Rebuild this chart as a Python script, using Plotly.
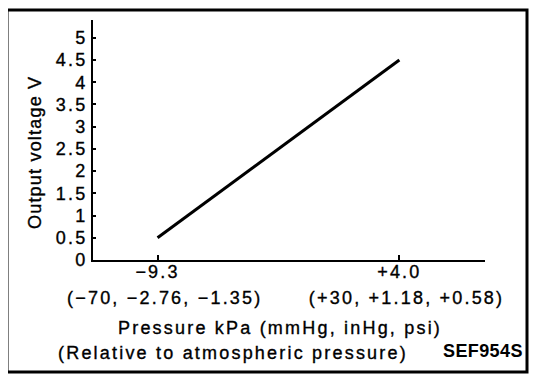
import plotly.graph_objects as go

# ---- data ----
pressure_kpa = [-9.3, 4.0]
output_voltage = [0.5, 4.5]

x_tick_vals = [-9.3, 4.0]
x_tick_main = ["−9.3", "+4.0"]
x_tick_sub = ["(−70, −2.76, −1.35)", "(+30, +1.18, +0.58)"]

y_tick_vals = [0, 0.5, 1, 1.5, 2, 2.5, 3, 3.5, 4, 4.5, 5]
y_tick_text = ["0", "0.5", "1", "1.5", "2", "2.5", "3", "3.5", "4", "4.5", "5"]

y_title = "Output voltage V"
x_title_1 = "Pressure kPa (mmHg, inHg, psi)"
x_title_2 = "(Relative to atmospheric pressure)"
code_label = "SEF954S"

FONT = "Liberation Sans, Arial, sans-serif"
INK = "stroke:black;stroke-width:0.35px;"
LS = INK + "letter-spacing:2.2px"


def sp(t, style=LS):
    return f'<span style="{style}">{t}</span>'


W, H = 560, 384
OFF = 8  # page body margin offset
L, R, T, B = 93 - OFF, 485 - OFF, 20 - OFF, 260 - OFF  # plot area in figure pixels


def px(xp):
    return (xp - OFF - L) / (R - L)


def py(yp):
    return (B - (yp - OFF)) / (B - T)


fig = go.Figure()
fig.add_trace(go.Scatter(
    x=pressure_kpa, y=output_voltage, mode="lines",
    line=dict(color="black", width=3), showlegend=False, hoverinfo="skip",
))

fig.update_layout(
    width=W, height=H,
    margin=dict(l=L, r=W - R, t=T, b=H - B, pad=0),
    paper_bgcolor="white", plot_bgcolor="white",
    font=dict(family=FONT, size=18, color="black"),
    showlegend=False,
)

NB = "\u00a0\u00a0"
fig.update_xaxes(
    range=[-12.85, 8.71], showgrid=False, zeroline=False,
    showline=True, linecolor="black", linewidth=2,
    ticks="inside", ticklen=5, tickwidth=2, tickcolor="black",
    tickvals=x_tick_vals,
    ticktext=[sp(a, LS + ";font-size:18px") + "<br>" + sp(NB + b, LS + ";font-size:18px")
              for a, b in zip(x_tick_main, x_tick_sub)],
    tickfont=dict(family=FONT, size=20, color="black"),
    ticklabelstandoff=-8,
)
fig.update_yaxes(
    range=[0, 5.4], showgrid=False, zeroline=False,
    showline=True, linecolor="black", linewidth=2,
    ticks="inside", ticklen=3, tickwidth=1.5, tickcolor="black",
    tickvals=y_tick_vals, ticktext=[sp(t) for t in y_tick_text],
    tickfont=dict(family=FONT, size=18, color="black"),
)

# outer frame
fig.add_shape(type="rect", xref="paper", yref="paper",
              x0=px(7), x1=px(527), y0=py(372), y1=py(10),
              line=dict(color="black", width=3), fillcolor="rgba(0,0,0,0)")

fig.add_annotation(text=sp(y_title, INK + "letter-spacing:1.2px"), textangle=-90,
                   xref="paper", yref="paper", x=px(35), y=py(153),
                   xanchor="center", yanchor="middle", showarrow=False,
                   font=dict(family=FONT, size=18, color="black"))
fig.add_annotation(text=sp(x_title_1), xref="paper", yref="paper",
                   x=px(280), y=py(328), xanchor="center", yanchor="middle",
                   showarrow=False, font=dict(family=FONT, size=18, color="black"))
fig.add_annotation(text=sp(x_title_2), xref="paper", yref="paper",
                   x=px(233), y=py(353), xanchor="center", yanchor="middle",
                   showarrow=False, font=dict(family=FONT, size=18, color="black"))
fig.add_annotation(text="<b>" + sp(code_label, "letter-spacing:0.4px") + "</b>",
                   xref="paper", yref="paper",
                   x=px(483), y=py(351), xanchor="center", yanchor="middle",
                   showarrow=False, font=dict(family=FONT, size=18, color="black"))

fig.write_html("out.html")
